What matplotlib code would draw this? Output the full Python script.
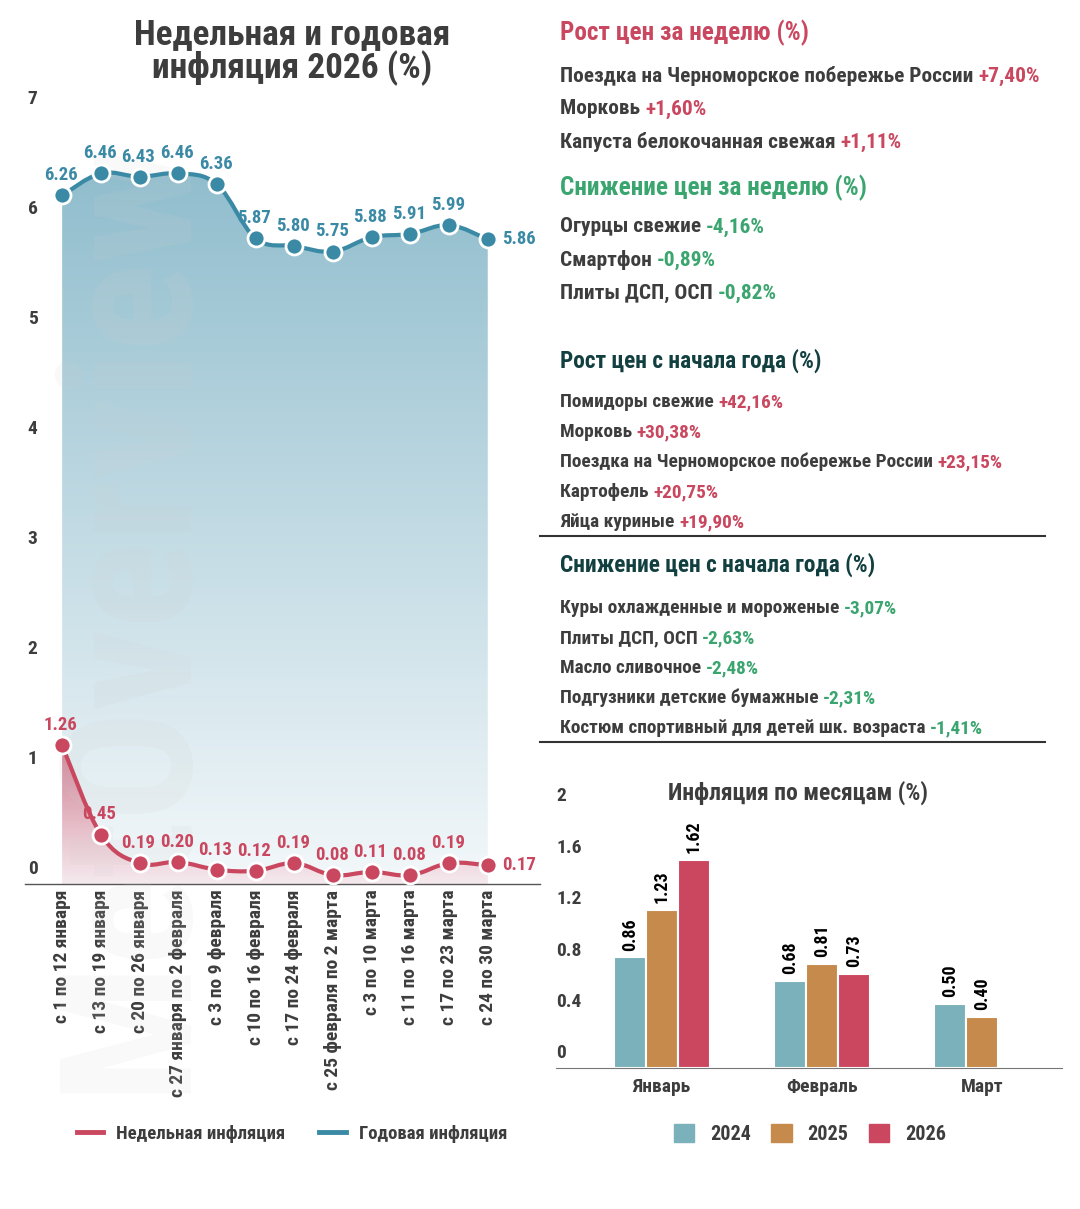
import numpy as np
import matplotlib
matplotlib.use("Agg")
import matplotlib.pyplot as plt
from matplotlib import font_manager
from matplotlib.path import Path
from matplotlib.patches import PathPatch, Patch
from matplotlib.lines import Line2D
from matplotlib.colors import LinearSegmentedColormap
import matplotlib.transforms as mtransforms

# ---------------- data ----------------
weeks = ["с 1 по 12 января", "с 13 по 19 января", "с 20 по 26 января",
         "с 27 января по 2 февраля", "с 3 по 9 февраля", "с 10 по 16 февраля",
         "с 17 по 24 февраля", "с 25 февраля по 2 марта", "с 3 по 10 марта",
         "с 11 по 16 марта", "с 17 по 23 марта", "с 24 по 30 марта"]
weekly = [1.26, 0.45, 0.19, 0.20, 0.13, 0.12, 0.19, 0.08, 0.11, 0.08, 0.19, 0.17]
annual = [6.26, 6.46, 6.43, 6.46, 6.36, 5.87, 5.80, 5.75, 5.88, 5.91, 5.99, 5.86]
line_yticks = [0, 1, 2, 3, 4, 5, 6, 7]

months = ["Январь", "Февраль", "Март"]
years = ["2024", "2025", "2026"]
monthly = {
    "2024": [0.86, 0.68, 0.50],
    "2025": [1.23, 0.81, 0.40],
    "2026": [1.62, 0.73, None],
}
bar_yticks = [0, 0.4, 0.8, 1.2, 1.6, 2]
bar_ytick_labels = ["0", "0.4", "0.8", "1.2", "1.6", "2"]

week_up_names = ["Поездка на Черноморское побережье России", "Морковь",
                 "Капуста белокочанная свежая"]
week_up_vals = ["+7,40%", "+1,60%", "+1,11%"]
week_down_names = ["Огурцы свежие", "Смартфон", "Плиты ДСП, ОСП"]
week_down_vals = ["-4,16%", "-0,89%", "-0,82%"]
year_up_names = ["Помидоры свежие", "Морковь", "Поездка на Черноморское побережье России",
                 "Картофель", "Яйца куриные"]
year_up_vals = ["+42,16%", "+30,38%", "+23,15%", "+20,75%", "+19,90%"]
year_down_names = ["Куры охлажденные и мороженые", "Плиты ДСП, ОСП", "Масло сливочное",
                   "Подгузники детские бумажные", "Костюм спортивный для детей шк. возраста"]
year_down_vals = ["-3,07%", "-2,63%", "-2,48%", "-2,31%", "-1,41%"]

# ---------------- style ----------------
names = {f.name for f in font_manager.fontManager.ttflist}
FONT = "Roboto Condensed" if "Roboto Condensed" in names else "Roboto"
plt.rcParams["font.family"] = [FONT, "DejaVu Sans"]
plt.rcParams["font.weight"] = "bold"

RED = "#c9475f"
BLUE = "#3b8aa5"
GREEN = "#3aa56e"
TEAL_DARK = "#123f3f"
TEXT = "#3d3d3d"
BAR_COLORS = {"2024": "#7bb1ba", "2025": "#c68a4c", "2026": "#cb4760"}

W, H = 1080, 1209
fig = plt.figure(figsize=(W / 100, H / 100), dpi=100, facecolor="white")


def fx(px):
    return px / W


def fy(py):
    return 1 - py / H


def smooth(x, y, t=0.18):
    # cubic bezier through points (catmull-rom style)
    x = np.asarray(x, float)
    y = np.asarray(y, float)
    verts = [(x[0], y[0])]
    codes = [Path.MOVETO]
    n = len(x)
    for i in range(n - 1):
        i0 = max(i - 1, 0)
        i3 = min(i + 2, n - 1)
        c1 = (x[i] + (x[i + 1] - x[i0]) * t, y[i] + (y[i + 1] - y[i0]) * t)
        c2 = (x[i + 1] - (x[i3] - x[i]) * t, y[i + 1] - (y[i3] - y[i]) * t)
        verts += [c1, c2, (x[i + 1], y[i + 1])]
        codes += [Path.CURVE4] * 3
    return verts, codes


def gradient_fill(ax, x, y, top_color, bottom_color, ytop, alpha=1.0, z=1):
    verts, codes = smooth(x, y)
    verts = verts + [(x[-1], 0), (x[0], 0), (x[0], y[0])]
    codes = codes + [Path.LINETO, Path.LINETO, Path.CLOSEPOLY]
    patch = PathPatch(Path(verts, codes), facecolor="none", edgecolor="none")
    ax.add_patch(patch)
    cmap = LinearSegmentedColormap.from_list("g", [bottom_color, top_color])
    grad = np.linspace(0, 1, 256).reshape(-1, 1)
    im = ax.imshow(grad, cmap=cmap, aspect="auto", origin="lower", alpha=alpha,
                   extent=[x[0], x[-1], 0, ytop], zorder=z)
    im.set_clip_path(patch)


# ---------------- left: weekly & annual ----------------
ax = fig.add_axes([fx(25), fy(884), fx(540) - fx(25), fy(114) - fy(884)])
xs = np.arange(len(weeks))
ax.set_xlim(-0.96, 12.35)
ax.set_ylim(0, 7)

gradient_fill(ax, xs, annual, "#90bdcd", "#f3f8fa", 6.5, z=1)
gradient_fill(ax, xs, weekly, "#cf7288", "#f6e9ed", 1.26, alpha=0.9, z=2)

# faint watermark
ax.text(0.205, 0.35, "MetOverview", transform=ax.transAxes, rotation=90,
        ha="center", va="center", fontsize=132, color="#d0d0d0", alpha=0.13,
        zorder=3)

for vals, col in [(annual, BLUE), (weekly, RED)]:
    v, c = smooth(xs, vals)
    ax.add_patch(PathPatch(Path(v, c), facecolor="none", edgecolor=col, lw=3,
                           capstyle="round", joinstyle="round", zorder=4))
    ax.scatter(xs, vals, s=150, color=col, edgecolor="white", linewidth=2, zorder=5)

for vals, col in [(annual, BLUE), (weekly, RED)]:
    for i, v in enumerate(vals):
        if i == len(vals) - 1:
            ax.annotate(f"{v:.2f}", (i, v), xytext=(10, 0), textcoords="offset points",
                        ha="left", va="center", color=col, fontsize=13.5, zorder=6)
        else:
            ax.annotate(f"{v:.2f}", (i, v), xytext=(-1, 8), textcoords="offset points",
                        ha="center", va="bottom", color=col, fontsize=13.5, zorder=6)

blend = mtransforms.blended_transform_factory(ax.transAxes, ax.transData)
for t in line_yticks:
    ax.annotate(str(t), (0, t), xycoords=blend, xytext=(2, 4),
                textcoords="offset points", ha="left", va="bottom",
                fontsize=14, color=TEXT)

ax.set_xticks(xs)
ax.set_xticklabels(weeks, rotation=90, fontsize=14, color=TEXT, va="top")
ax.tick_params(axis="x", length=0, pad=4)
ax.set_yticks([])
for s in ["top", "left", "right"]:
    ax.spines[s].set_visible(False)
ax.spines["bottom"].set_color("#555555")
ax.spines["bottom"].set_linewidth(1)
ax.patch.set_alpha(0)

fig.text(fx(292), fy(52), "Недельная и годовая\nинфляция 2026 (%)", ha="center",
         va="center", fontsize=25.5, color=TEXT, linespacing=1.0)

fig.legend(handles=[Line2D([], [], color=RED, lw=3.5),
                    Line2D([], [], color=BLUE, lw=3.5)],
           labels=["Недельная инфляция", "Годовая инфляция"],
           loc="center", bbox_to_anchor=(fx(292), fy(1134)), ncol=2, frameon=False,
           fontsize=13.5, handlelength=1.4, columnspacing=1.8, handletextpad=0.7,
           labelcolor=TEXT)

# ---------------- right: bar chart ----------------
bx = fig.add_axes([fx(556), fy(1068), fx(1062) - fx(556), fy(811) - fy(1068)])
bx.set_xlim(-0.66, 2.5)
bx.set_ylim(0, 2)
width = 0.2
mx = np.arange(len(months))
for k, yr in enumerate(years):
    for j, v in enumerate(monthly[yr]):
        if v is None:
            continue
        xpos = mx[j] + (k - 1) * width
        bx.bar(xpos, v, width=width, color=BAR_COLORS[yr], edgecolor="white",
               linewidth=1.5, zorder=2)
        bx.annotate(f"{v:.2f}", (xpos, v), xytext=(0, 5), textcoords="offset points",
                    ha="center", va="bottom", rotation=90, fontsize=13, color="black")

bblend = mtransforms.blended_transform_factory(bx.transAxes, bx.transData)
for t, lab in zip(bar_yticks, bar_ytick_labels):
    bx.annotate(lab, (0, t), xycoords=bblend, xytext=(0, 4),
                textcoords="offset points", ha="left", va="bottom",
                fontsize=14, color=TEXT)
bx.set_xticks(mx)
bx.set_xticklabels(months, fontsize=14, color=TEXT)
bx.tick_params(axis="x", length=0, pad=7)
bx.set_yticks([])
for s in ["top", "left", "right"]:
    bx.spines[s].set_visible(False)
bx.spines["bottom"].set_color("#777777")
bx.patch.set_alpha(0)

fig.text(fx(798), fy(793), "Инфляция по месяцам (%)", ha="center", va="center",
         fontsize=17, color=TEXT)

fig.legend(handles=[Patch(color=BAR_COLORS[y]) for y in years], labels=years,
           loc="center", bbox_to_anchor=(fx(810), fy(1134)), ncol=3, frameon=False,
           fontsize=14.5, handlelength=1.0, handleheight=1.0, columnspacing=1.0,
           handletextpad=0.8, labelcolor=TEXT)

# ---------------- right: text lists ----------------
renderer = fig.canvas.get_renderer()


def item_line(x, y, name, value, color, size):
    t = fig.text(fx(x), fy(y), name + " ", ha="left", va="center", fontsize=size,
                 color=TEXT)
    bb = t.get_window_extent(renderer=renderer)
    fig.text(bb.x1 / W, fy(y), value, ha="left", va="center", fontsize=size,
             color=color)


fig.text(fx(560), fy(33), "Рост цен за неделю (%)", ha="left", va="center",
         fontsize=18.2, color=RED)
for i, (n, v) in enumerate(zip(week_up_names, week_up_vals)):
    item_line(560, 76 + 33 * i, n, v, RED, 15.4)

fig.text(fx(560), fy(188), "Снижение цен за неделю (%)", ha="left", va="center",
         fontsize=18.2, color=GREEN)
for i, (n, v) in enumerate(zip(week_down_names, week_down_vals)):
    item_line(560, 227 + 33 * i, n, v, GREEN, 15.4)

fig.text(fx(560), fy(361), "Рост цен с начала года (%)", ha="left", va="center",
         fontsize=16.8, color=TEAL_DARK)
for i, (n, v) in enumerate(zip(year_up_names, year_up_vals)):
    item_line(560, 402 + 30 * i, n, v, RED, 13.9)

fig.add_artist(Line2D([fx(540), fx(1045)], [fy(536), fy(536)], color="#333333", lw=1.5))

fig.text(fx(560), fy(565), "Снижение цен с начала года (%)", ha="left", va="center",
         fontsize=16.8, color=TEAL_DARK)
for i, (n, v) in enumerate(zip(year_down_names, year_down_vals)):
    item_line(560, 608 + 30 * i, n, v, GREEN, 13.9)

fig.add_artist(Line2D([fx(540), fx(1045)], [fy(742), fy(742)], color="#333333", lw=1.5))

fig.savefig("out.png", dpi=100, facecolor="white")
